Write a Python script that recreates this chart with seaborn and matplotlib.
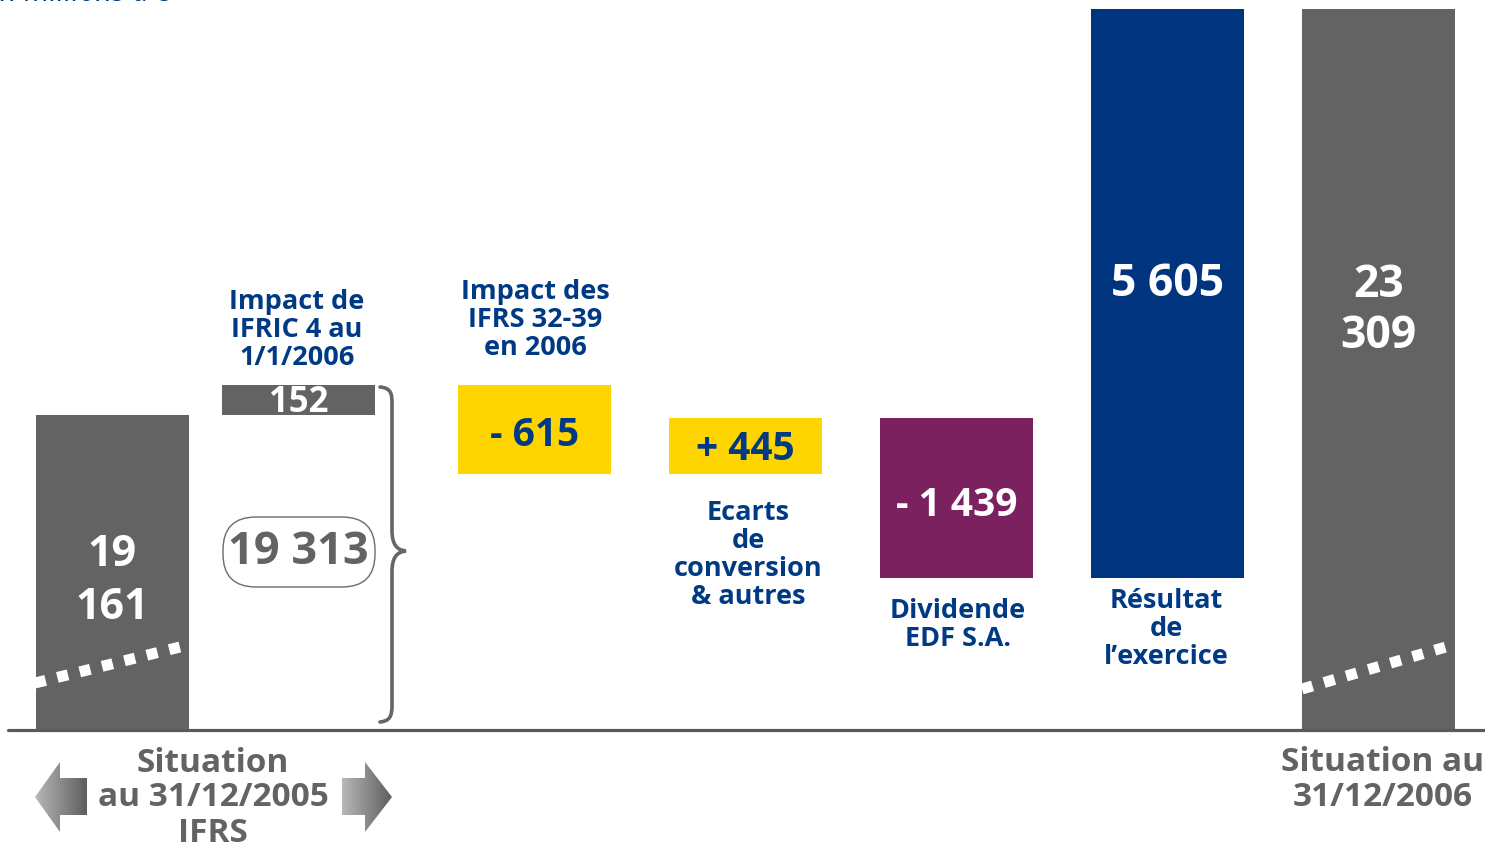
import numpy as np
import pandas as pd
import matplotlib
matplotlib.use("Agg")
import matplotlib.pyplot as plt
import seaborn as sns
from matplotlib.patches import Polygon, FancyBboxPatch, PathPatch
from matplotlib.path import Path
from matplotlib.colors import LinearSegmentedColormap

# ---------------- data ----------------
steps = ["Situation au 31/12/2005 IFRS", "Impact de IFRIC 4 au 1/1/2006",
         "Impact des IFRS 32-39 en 2006", "Ecarts de conversion & autres",
         "Dividende EDF S.A.", "Résultat de l'exercice", "Situation au 31/12/2006"]
opening = 19161
changes = [152, -615, 445, -1439, 5605]
restated = 19313
closing = 23309
bar_colors = ["#636363", "#636363", "#FFD500", "#FFD500", "#7B2160", "#00347F", "#636363"]
unit_label = "En millions d’€"

# ---------------- derived waterfall ----------------
bottoms, tops, values = [0], [opening], [opening]
level = opening
for c in changes:
    bottoms.append(min(level, level + c))
    tops.append(max(level, level + c))
    values.append(c)
    level += c
bottoms.append(0)
tops.append(closing)
values.append(closing)

def fmt(v):
    return f"{abs(v):,}".replace(",", " ")

NAVY = "#003A84"
GREY_TXT = "#636363"

sns.set_theme(style="white")
plt.rcParams['font.family'] = ['Open Sans', 'DejaVu Sans']

W, H = 1485, 848
fig = plt.figure(figsize=(W / 100, H / 100), dpi=100)
fig.patch.set_facecolor("white")

# main axes: baseline at pixel 730
ax = fig.add_axes([0, (H - 730) / H, 1, 730 / H])
df = pd.DataFrame({"step": steps, "top": tops})
sns.barplot(data=df, x="step", y="top", hue="step", order=steps, hue_order=steps,
            palette=bar_colors, saturation=1, width=0.725, legend=False, ax=ax)

patches = sorted(ax.patches, key=lambda p: p.get_x())
for i, p in enumerate(patches):
    p.set_y(bottoms[i])
    p.set_height(tops[i] - bottoms[i])
    p.set_linewidth(0)
# slight shift of the second bar (layout)
patches[1].set_x(patches[1].get_x() - 0.1185)

# schematic (broken) y scale
anch_v = np.array([0, 17704, 18698, 19152, 19313, 23309, 40000], dtype=float)
anch_d = np.array([0, 152, 256, 313, 345, 721, 721 + 16691 * 376 / 3996])
def fwd(v):
    return np.interp(v, anch_v, anch_d)
def inv(d):
    return np.interp(d, anch_d, anch_v)
ax.set_yscale("function", functions=(fwd, inv))
ax.set_ylim(0, float(inv(730)))
ax.set_xlim((0 - 112.5) / 211, (W - 112.5) / 211)
ax.set_axis_off()
ax.axhline(0, xmin=8 / W, xmax=1, color="#5a5a5a", lw=2.3, clip_on=False, zorder=5)

# overlay axes in pixel coordinates for annotations
ov = fig.add_axes([0, 0, 1, 1], zorder=3)
ov.patch.set_alpha(0)

# axis-break dashes
for (x0, y0, x1, y1) in [(35, 683, 188, 645), (1302, 689, 1456, 644)]:
    ln, = ov.plot([x0, x1], [y0, y1], color="white", lw=7.9, solid_capstyle="butt",
                  dash_capstyle="butt")
    ln.set_dashes([1, 1.1])

# value labels
def bar_cx(i):
    p = patches[i]
    return 112.5 + 211 * (p.get_x() + p.get_width() / 2)

val_txt = [fmt(values[0])[:2] + "\n" + fmt(values[0])[3:],
           fmt(values[1]),
           "- " + fmt(values[2]),
           "+ " + fmt(values[3]),
           "- " + fmt(values[4]),
           fmt(values[5]),
           fmt(values[6])[:2] + "\n" + fmt(values[6])[3:]]
val_y = [581, 403, 436, 450, 505, 284, 311]
val_col = ["white", "white", NAVY, NAVY, "white", "white", "white"]
val_size = [31, 25, 28, 28, 28, 32, 32]
val_ls = [1.33, 1, 1, 1, 1, 1, 1.2]
for i in range(7):
    ov.text(bar_cx(i), val_y[i], val_txt[i], ha="center", va="center", color=val_col[i],
            fontsize=val_size[i], fontweight="bold", linespacing=val_ls[i])

# restated total in rounded box
box = FancyBboxPatch((223, 517), 152, 70, boxstyle="round,pad=0,rounding_size=33",
                     fc="none", ec="#6a6a6a", lw=1.0)
ov.add_patch(box)
ov.text(298, 553, fmt(restated), ha="center", va="center", color=GREY_TXT,
        fontsize=32.5, fontweight="bold")

# brace
bv = [(380, 387), (392, 388), (392, 395), (392, 405),
      (392, 530),
      (392, 545), (397, 550), (406, 551),
      (397, 552), (392, 557), (392, 572),
      (392, 705),
      (392, 716), (390, 721), (380, 722)]
bc = [Path.MOVETO, Path.CURVE4, Path.CURVE4, Path.CURVE4,
      Path.LINETO,
      Path.CURVE4, Path.CURVE4, Path.CURVE4,
      Path.CURVE4, Path.CURVE4, Path.CURVE4,
      Path.LINETO,
      Path.CURVE4, Path.CURVE4, Path.CURVE4]
ov.add_patch(PathPatch(Path(bv, bc), fc="none", ec="#666666", lw=2.6, capstyle="round"))

# category labels
cat_labels = [
    (297, 330, "Impact de\nIFRIC 4 au\n1/1/2006", NAVY, 19.5),
    (535, 320, "Impact des\nIFRS 32-39\nen 2006", NAVY, 19.5),
    (748, 555, "Ecarts\nde\nconversion\n& autres", NAVY, 19.5),
    (958, 625, "Dividende\nEDF S.A.", NAVY, 19.5),
    (1166, 629, "Résultat\nde\nl’exercice", NAVY, 19.5),
    (213, 798, "Situation\nau 31/12/2005\nIFRS", GREY_TXT, 24),
    (1383, 780, "Situation au\n31/12/2006", GREY_TXT, 24),
]
for x, y, s, c, fs in cat_labels:
    ov.text(x, y, s, ha="center", va="center", color=c, fontsize=fs,
            fontweight="bold", linespacing=1.1 if c == NAVY else 1.08)

# gradient arrows
cmap = LinearSegmentedColormap.from_list("g", ["#b8b8b8", "#5e5e5e"])
grad = np.linspace(0, 1, 256).reshape(1, -1)
left_arrow = [(35, 797), (60, 762), (60, 778), (87, 778), (87, 815), (60, 815), (60, 832)]
right_arrow = [(342, 778), (365, 778), (365, 762), (392, 797), (365, 832), (365, 815), (342, 815)]
for pts in (left_arrow, right_arrow):
    xs = [p[0] for p in pts]
    poly = Polygon(pts, closed=True, fc="none", ec="none", transform=ov.transData)
    ov.add_patch(poly)
    im = ov.imshow(grad, extent=[min(xs), max(xs), 832, 762], cmap=cmap, aspect="auto",
                   interpolation="bilinear")
    im.set_clip_path(poly)

# unit label (cut at top of the picture)
ov.text(170, 1, unit_label, ha="right", va="baseline", color=NAVY, fontsize=21,
        style="italic")

ov.set_xlim(0, W)
ov.set_ylim(H, 0)
ov.set_axis_off()

fig.savefig("out.png", dpi=100)
